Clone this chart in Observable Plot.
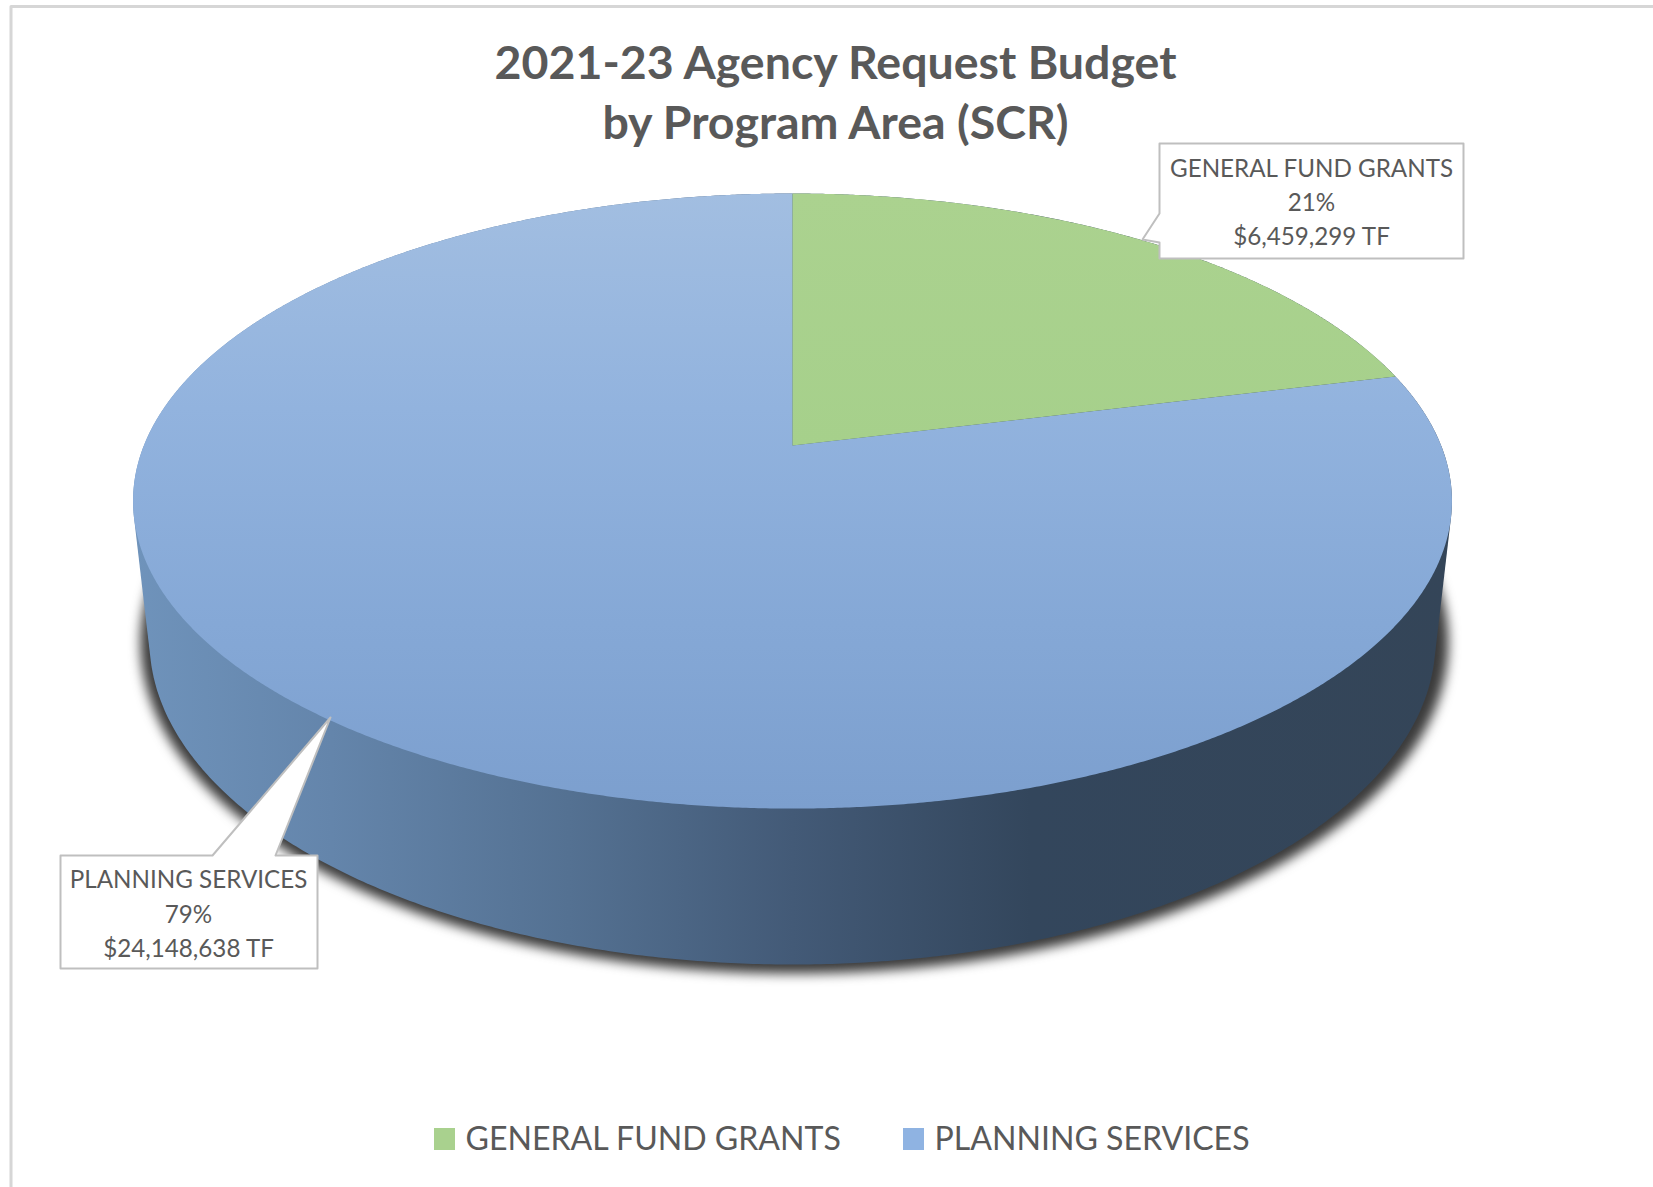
<!DOCTYPE html>
<html>
<head>
<meta charset="utf-8">
<script src="https://cdn.jsdelivr.net/npm/d3@7"></script>
<script src="https://cdn.jsdelivr.net/npm/@observablehq/plot@0.6"></script>
<style>
html,body{margin:0;padding:0;background:#fff;overflow:hidden}
svg{display:block;max-width:none}
</style>
</head>
<body>
<div id="chart"></div>
<script>
// ---- data ----
const programs = ["GENERAL FUND GRANTS", "PLANNING SERVICES"];
const amounts = [6459299, 24148638];
const percents = ["21%", "79%"];
const amountLabels = ["$6,459,299 TF", "$24,148,638 TF"];
const titleLines = ["2021-23 Agency Request Budget", "by Program Area (SCR)"];
const swatchColors = ["#a9d18e", "#8fb3e2"];

// ---- layout of the 3-D pie (separate from the data) ----
const W = 1653, H = 1187;
const top3d = {cx: 792, y0: 445, A: 648.6, B: 297.5, k: 0.1806};
const base3d = {cx: 792, cy: 640, rx: 643, ry: 324};
const ink = "#595959";
const font = "Lato, Carlito, sans-serif";

const total = d3.sum(amounts);
const project = a => {
  const w = 1 + top3d.k * Math.cos(a);
  return [top3d.cx + top3d.A * Math.sin(a) / w, top3d.y0 - top3d.B * Math.cos(a) / w];
};
const arc = (a0, a1) => {
  const n = Math.max(2, Math.ceil((a1 - a0) / 0.005));
  return d3.range(n + 1).map(i => project(a0 + (a1 - a0) * i / n));
};
const turn = 2 * Math.PI;
const cuts = Array.from(d3.cumsum(amounts), v => v / total * turn);
const apex = [top3d.cx, top3d.y0];
const sliceGreen = [apex, ...arc(0, cuts[0]), apex];
const sliceBlue = [apex, ...arc(cuts[0], cuts[1]), apex];
const baseEllipse = (rx, ry, dx = 0, dy = 0) =>
  d3.range(0, 721).map(i => {
    const a = i / 720 * turn;
    return [base3d.cx + dx + rx * Math.cos(a), base3d.cy + dy + ry * Math.sin(a)];
  });
const wall = d3.polygonHull([...arc(0, turn), ...baseEllipse(base3d.rx, base3d.ry)]);
wall.push(wall[0]);
const shadow = baseEllipse(base3d.rx + 11, base3d.ry + 7, 2, 2);

// callouts
const calloutA = [[1159,143],[1463,143],[1463,258],[1159,258],[1159,242],[1142,239],[1159,213],[1159,143]];
const calloutB = [[60,855],[212,855],[330,717],[275,855],[317,855],[317,968],[60,968],[60,855]];
const frameLine = [[10.5,1187],[10.5,6],[1653,6]];

// legend layout
const legendSwatchX = [434, 903];
const legendTextX = [465, 934];

const defs = () => {
  const d = d3.create("svg:defs");
  const grad = (id, attrs, stops) => {
    const g = d.append("linearGradient").attr("id", id).attr("gradientUnits", "userSpaceOnUse");
    Object.entries(attrs).forEach(([k, v]) => g.attr(k, v));
    stops.forEach(([o, c]) => g.append("stop").attr("offset", o).attr("stop-color", c));
  };
  grad("topBlue", {x1: 0, x2: 0, y1: 193, y2: 808}, [[0, "#a2bee1"], [0.35, "#92b3de"], [0.7, "#85a8d6"], [1, "#7c9fce"]]);
  grad("topGreen", {x1: 0, x2: 0, y1: 193, y2: 445}, [[0, "#abd28f"], [1, "#a6d08b"]]);
  grad("sideBlue", {x1: 133, x2: 1452, y1: 0, y2: 0}, [
    [0, "#6f93bb"], [0.15, "#6485ab"], [0.33, "#547192"], [0.5, "#435a77"], [0.68, "#33465c"], [1, "#344558"]
  ]);
  return d.node();
};

const poly = (pts, opts) => Plot.line(pts, {x: d => d[0], y: d => d[1], stroke: "none", ...opts});
const calloutText = i => `${programs[i]}\n${percents[i]}\n${amountLabels[i]}`;

const chart = Plot.plot({
  width: W, height: H,
  margin: 0,
  x: {domain: [0, W], range: [0, W], axis: null},
  y: {domain: [0, H], range: [0, H], axis: null},
  color: {domain: programs, range: swatchColors},
  style: {background: "#fff", fontFamily: font},
  marks: [
    defs,
    poly(frameLine, {stroke: "#d6d6d6", strokeWidth: 3, fill: "none"}),
    poly(shadow, {fill: "#3a3a3a", imageFilter: "blur(6px)"}),
    poly(wall, {fill: "url(#sideBlue)"}),
    poly(sliceBlue, {fill: "url(#topBlue)"}),
    poly(sliceGreen, {fill: "url(#topGreen)"}),
    poly(calloutA, {fill: "#fff", stroke: "#bfbfbf", strokeWidth: 2}),
    poly(calloutB, {fill: "#fff", stroke: "#bfbfbf", strokeWidth: 2}),
    Plot.text([calloutText(0)], {x: () => 1311, y: () => 199.5, text: d => d, fontSize: 24.2, lineHeight: 1.42, fill: ink, textAnchor: "middle"}),
    Plot.text([calloutText(1)], {x: () => 188, y: () => 911, text: d => d, fontSize: 24.2, lineHeight: 1.42, fill: ink, textAnchor: "middle"}),
    Plot.text(titleLines, {x: () => 835, y: (d, i) => 64 + i * 60, text: d => d, fontSize: 46.5, fontWeight: 700, fill: ink, textAnchor: "middle"}),
    Plot.rect(programs, {x1: (d, i) => legendSwatchX[i], x2: (d, i) => legendSwatchX[i] + 21, y1: () => 1128, y2: () => 1150, fill: d => d}),
    Plot.text(programs, {x: (d, i) => legendTextX[i], y: () => 1139, text: d => d, fontSize: 32.1, fill: ink, textAnchor: "start"})
  ]
});
document.getElementById("chart").append(chart);
</script>
</body>
</html>
